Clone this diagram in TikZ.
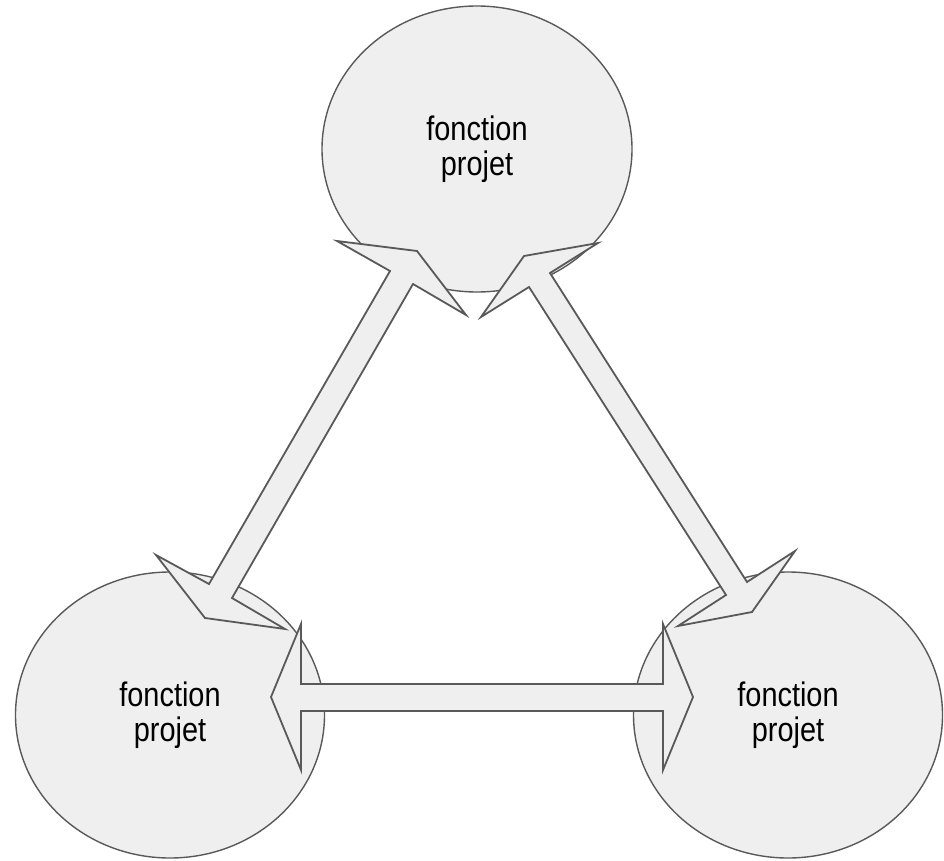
\documentclass[tikz,border=0pt]{standalone}
\usepackage{fontspec}
\setmainfont{Liberation Sans}
\newfontfamily\lblfont[FakeStretch=0.85]{Liberation Sans}
\usetikzlibrary{shapes.geometric}
\definecolor{fillgray}{HTML}{EFEFEF}
\definecolor{linegray}{HTML}{595959}
\begin{document}
\begin{tikzpicture}[x=1pt,y=-1pt,
  bubble/.style={ellipse, draw=linegray, fill=fillgray, line width=1.4pt, inner sep=0pt,
    align=center, font=\lblfont\fontsize{34}{35}\selectfont, text=black},
  blockarrow/.style={draw=linegray, fill=fillgray, line width=1.8pt, line join=miter}]
\useasboundingbox (0,0) rectangle (944,861);
\node[bubble, minimum width=310pt, minimum height=286pt] (top) at (477,149) {fonction\\projet};
\node[bubble, minimum width=309pt, minimum height=286pt] (left) at (170,715) {fonction\\projet};
\node[bubble, minimum width=309pt, minimum height=286pt] (right) at (788,715) {fonction\\projet};
% double block arrow: top <-> left
\draw[blockarrow] (417,251) -- (466,315) -- (413,284) -- (232,598) -- (285,629) -- (205,618)
  -- (156,555) -- (209,584) -- (390,271) -- (337,241) -- cycle;
% double block arrow: top <-> right
\draw[blockarrow] (524,256) -- (598,243) -- (550,273) -- (747,582) -- (795,551) -- (752,612)
  -- (678,626) -- (726,595) -- (529,287) -- (481,317) -- cycle;
% double block arrow: left <-> right
\draw[blockarrow] (271,697) -- (301,624) -- (301,684) -- (663,684) -- (663,624) -- (693,697)
  -- (663,770) -- (663,711) -- (301,711) -- (301,770) -- cycle;
\end{tikzpicture}
\end{document}
